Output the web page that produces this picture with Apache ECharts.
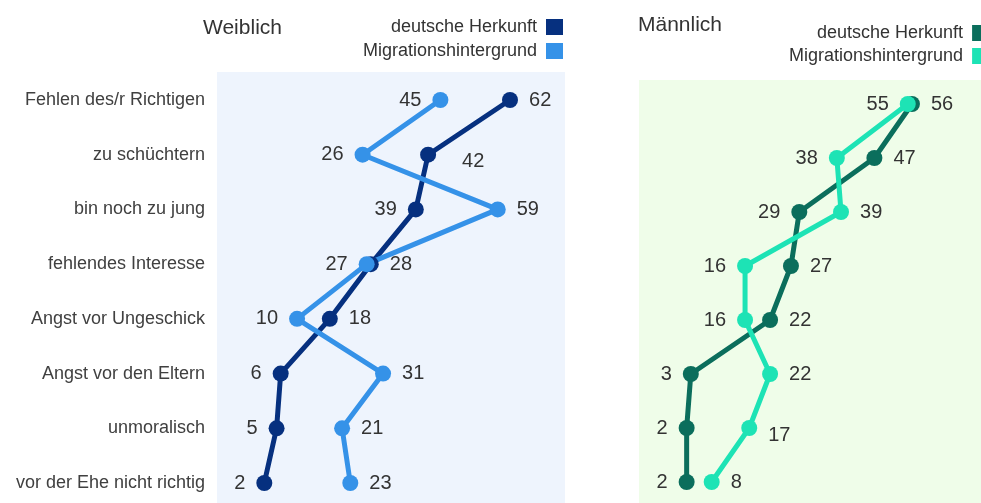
<!DOCTYPE html>
<html>
<head>
<meta charset="utf-8">
<script src="https://cdn.jsdelivr.net/npm/echarts@6/dist/echarts.min.js"></script>
<style>
  html, body { margin: 0; padding: 0; background: #fff; }
  #chart { width: 981px; height: 503px; }
</style>
</head>
<body>
<div id="chart"></div>
<script>
const categories = [
  'Fehlen des/r Richtigen',
  'zu schüchtern',
  'bin noch zu jung',
  'fehlendes Interesse',
  'Angst vor Ungeschick',
  'Angst vor den Eltern',
  'unmoralisch',
  'vor der Ehe nicht richtig'
]

// Weiblich
const wDeutsch = [62, 42, 39, 28, 18, 6, 5, 2]
const wMigration = [45, 26, 59, 27, 10, 31, 21, 23]
// Männlich
const mDeutsch = [56, 47, 29, 27, 22, 3, 2, 2]
const mMigration = [55, 38, 39, 16, 16, 22, 17, 8]

// which side the value label sits on
const wDeutschSide = ['right', 'right', 'left', 'right', 'right', 'left', 'left', 'left']
const wMigrationSide = ['left', 'left', 'right', 'left', 'left', 'right', 'right', 'right']
const mDeutschSide = ['right', 'right', 'left', 'right', 'right', 'left', 'left', 'left']
const mMigrationSide = ['left', 'left', 'right', 'left', 'left', 'right', 'right', 'right']

const legendNames = {
  wDe: 'deutsche Herkunft',
  wMig: 'Migrationshintergrund',
  mDe: 'deutsche Herkunft',
  mMig: 'Migrationshintergrund'
}

const FONT = "'Liberation Sans', Arial, sans-serif"

const makeData = (values, sides, offsets) => values.map((v, i) => ({
  value: [v, categories[i]],
  label: {
    position: sides[i],
    offset: (offsets && offsets[i]) || [0, 0]
  }
}))

const makeSeries = (name, values, sides, color, idx, offsets) => ({
  name: name,
  type: 'line',
  xAxisIndex: idx,
  yAxisIndex: idx,
  symbol: 'circle',
  symbolSize: 16,
  lineStyle: {width: 5, color: color},
  itemStyle: {color: color},
  label: {
    show: true,
    distance: 11,
    fontSize: 20,
    color: '#333',
    fontFamily: FONT,
    formatter: p => p.value[0]
  },
  emphasis: {disabled: true},
  data: makeData(values, sides, offsets)
})

const legendBase = {
  orient: 'vertical', align: 'right', padding: 0,
  icon: 'rect', itemWidth: 17, itemHeight: 16,
  selectedMode: false,
  formatter: n => legendNames[n],
  textStyle: {fontSize: 18, color: '#333', fontFamily: FONT, padding: [0, 4, 0, 0]}
}

const chart = echarts.init(document.getElementById('chart'))

chart.setOption({
  animation: false,
  textStyle: {fontFamily: FONT},
  // panel backgrounds
  graphic: [
    {type: 'rect', z: -10, silent: true, shape: {x: 217, y: 72, width: 348, height: 431}, style: {fill: '#eef4fd'}},
    {type: 'rect', z: -10, silent: true, shape: {x: 639, y: 80, width: 342, height: 423}, style: {fill: '#effde9'}}
  ],
  title: [
    {text: 'Weiblich', left: 198, top: 13, textStyle: {fontSize: 21, fontWeight: 'normal', color: '#333', fontFamily: FONT}},
    {text: 'Männlich', left: 633, top: 10, textStyle: {fontSize: 21, fontWeight: 'normal', color: '#333', fontFamily: FONT}}
  ],
  legend: [
    Object.assign({}, legendBase, {data: ['wDe', 'wMig'], right: 418, top: 18, itemGap: 6}),
    Object.assign({}, legendBase, {data: ['mDe', 'mMig'], left: 789, top: 24, itemGap: 5})
  ],
  grid: [
    {left: 217, width: 348, top: 100, height: 383},
    {left: 639, right: 0, top: 104, height: 378}
  ],
  xAxis: [
    {gridIndex: 0, type: 'value', min: -9.55, max: 75.43, show: false},
    {gridIndex: 1, type: 'value', min: -9.42, max: 72.55, show: false}
  ],
  yAxis: [
    {
      gridIndex: 0, type: 'category', data: categories, inverse: true, boundaryGap: false,
      axisLine: {show: false}, axisTick: {show: false}, splitLine: {show: false},
      axisLabel: {fontSize: 18, color: '#404040', margin: 12, fontFamily: FONT, padding: [5, 0, 0, 0]}
    },
    {
      gridIndex: 1, type: 'category', data: categories, inverse: true, boundaryGap: false,
      axisLine: {show: false}, axisTick: {show: false}, splitLine: {show: false},
      axisLabel: {show: false}
    }
  ],
  series: [
    makeSeries('wDe', wDeutsch, wDeutschSide, '#06307f', 0, {1: [15, 7]}),
    makeSeries('wMig', wMigration, wMigrationSide, '#3592e8', 0),
    makeSeries('mDe', mDeutsch, mDeutschSide, '#0b6e5c', 1),
    makeSeries('mMig', mMigration, mMigrationSide, '#1de3b5', 1, {6: [0, 7]})
  ]
})
</script>
</body>
</html>
